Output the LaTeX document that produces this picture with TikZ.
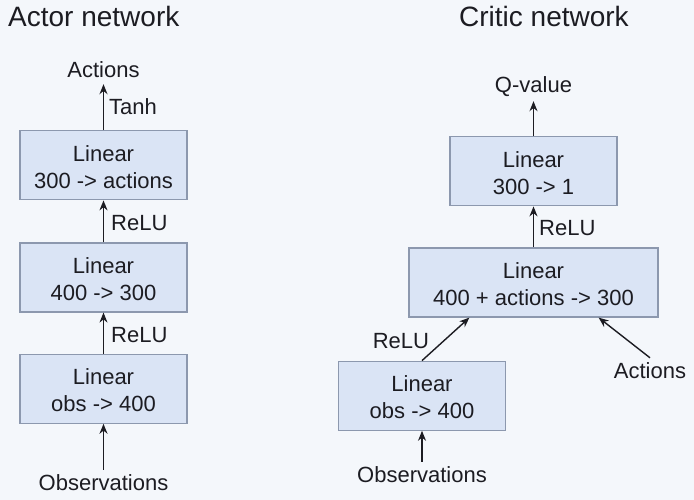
\documentclass[tikz,border=0pt]{standalone}
\usepackage{fontspec}
\setmainfont{Liberation Sans}
\usetikzlibrary{arrows.meta, positioning}
\definecolor{bgpage}{RGB}{244, 247, 251}
\definecolor{boxfill}{RGB}{218, 228, 245}
\definecolor{boxline}{RGB}{140, 152, 174}
\definecolor{ink}{RGB}{28, 28, 34}

\begin{document}
\begin{tikzpicture}[x=1pt, y=-1pt,
  box/.style={draw=boxline, fill=boxfill, line width=1.2pt, minimum width=167pt,
        minimum height=69pt, inner sep=0pt, align=center, text=ink,
        font=\fontsize{22}{27}\selectfont, text height=51pt, text depth=5pt},
  lbl/.style={text=ink, font=\fontsize{22}{26}\selectfont, inner sep=2pt,
        text height=18pt, text depth=0pt},
  ttl/.style={text=ink, font=\fontsize{28}{32}\selectfont, inner sep=0pt,
        anchor=base west},
  arr/.style={-{Stealth[length=10pt, width=8pt]}, line width=1.4pt, draw=ink}]
  \fill[bgpage] (0,0) rectangle (694,500);
  \useasboundingbox (0,0) rectangle (694,500);

  % actor network
  \node[ttl] (actTitle) at (8,27) {Actor network};
  \node[lbl] (obsA) at (103.5,481) {Observations};
  \node[box, above=46pt of obsA] (linA1) {Linear\\obs -> 400};
  \node[box, above=41pt of linA1] (linA2) {Linear\\400 -> 300};
  \node[box, above=42pt of linA2] (linA3) {Linear\\300 -> actions};
  \node[lbl, above=50pt of linA3] (actA) {Actions};
  \draw[arr] (obsA) -- (linA1);
  \draw[arr] (linA1) -- (linA2) node[lbl, midway, right=5pt] (reluA1) {ReLU};
  \draw[arr] (linA2) -- (linA3) node[lbl, midway, right=5pt] (reluA2) {ReLU};
  \draw[arr, shorten >=4pt] (linA3) -- (actA)
    node[lbl, midway, right=3pt] (tanhA) {Tanh};

  % critic network
  \node[ttl] (critTitle) at (459,27) {Critic network};
  \node[lbl] (obsC) at (422,473) {Observations};
  \node[box, above=31pt of obsC] (linC1) {Linear\\obs -> 400};
  \node[box, minimum width=249pt] (linC2) at (533.5,282.5) {Linear\\400 + actions -> 300};
  \node[box, above=41pt of linC2] (linC3) {Linear\\300 -> 1};
  \node[lbl, above=41pt of linC3] (qC) {Q-value};
  \node[lbl] (actC) at (650,369) {Actions};
  \coordinate (inL) at ([xshift=61pt]linC2.south west);
  \coordinate (inR) at ([xshift=-60pt]linC2.south east);
  \draw[arr] (obsC) -- (linC1);
  \draw[arr] (linC1.north) -- (inL) node[lbl, midway, left=14pt] (reluC1) {ReLU};
  \draw[arr] (actC.north) -- (inR);
  \draw[arr] (linC2) -- (linC3) node[lbl, midway, right=3pt] (reluC2) {ReLU};
  \draw[arr, shorten >=6pt] (linC3) -- (qC);
\end{tikzpicture}
\end{document}
